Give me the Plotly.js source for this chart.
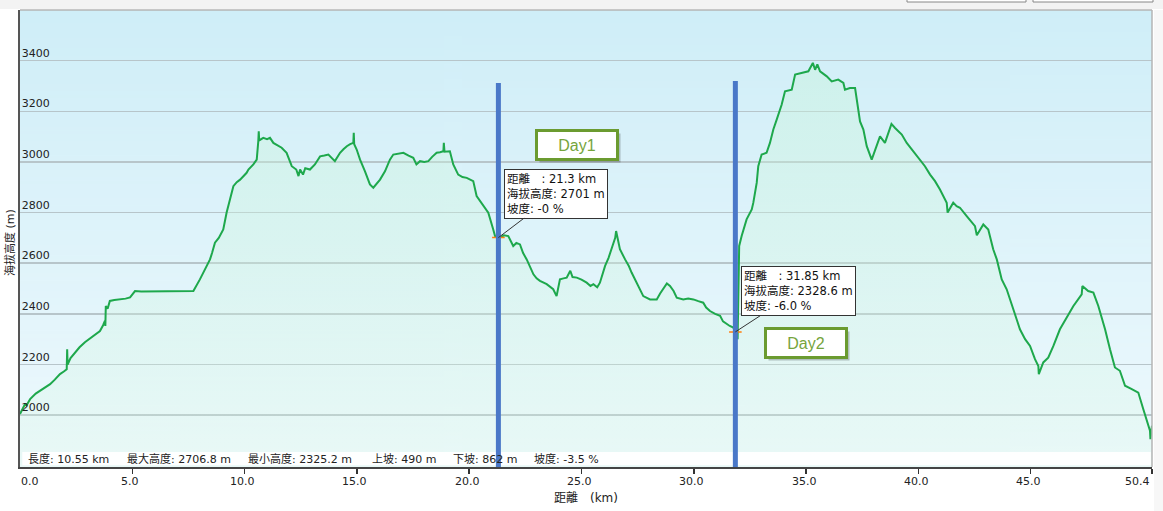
<!DOCTYPE html>
<html>
<head>
<meta charset="utf-8">
<script src="https://cdn.plot.ly/plotly-3.0.1.min.js"></script>
<style>
html,body{margin:0;padding:0;background:#ffffff;}
#chart{width:1163px;height:511px;}
</style>
</head>
<body>
<div id="chart"></div>
<script>
// Distance along the route (km)
const dist = [
0.00,0.10,0.22,0.30,0.45,0.70,0.89,1.10,1.34,1.55,1.78,1.95,2.08,2.10,2.12,2.25,2.45,2.65,2.89,3.20,
3.56,3.70,3.78,3.80,3.82,3.90,4.00,4.20,4.45,4.70,4.90,5.12,5.40,5.79,6.50,7.20,7.72,8.01,8.30,8.46,
8.55,8.68,8.85,9.05,9.20,9.35,9.50,9.65,9.80,10.09,10.17,10.39,10.54,10.61,10.63,10.65,10.83,11.00,11.13,11.28,
11.45,11.65,11.87,12.10,12.30,12.40,12.47,12.60,12.70,12.91,13.13,13.36,13.55,13.73,14.02,14.25,14.40,14.55,14.70,14.84,
14.86,14.88,14.99,15.14,15.36,15.58,15.73,15.88,16.03,16.25,16.47,16.62,16.85,17.07,17.30,17.51,17.65,17.81,18.00,18.18,
18.35,18.55,18.70,18.85,18.87,18.90,19.14,19.29,19.51,19.70,19.89,20.18,20.33,20.50,20.63,20.85,21.07,21.15,21.30,21.37,
21.55,21.74,21.96,22.10,22.26,22.40,22.56,22.70,22.86,23.00,23.15,23.45,23.60,23.74,23.89,24.04,24.20,24.34,24.50,24.60,
24.79,25.00,25.23,25.40,25.53,25.70,25.82,26.05,26.20,26.34,26.50,26.54,26.60,26.71,26.94,27.10,27.23,27.46,27.60,27.75,
28.05,28.35,28.50,28.64,28.80,28.94,29.10,29.24,29.53,29.75,29.98,30.20,30.42,30.55,30.72,30.95,31.17,31.30,31.46,31.60,
31.76,31.85,31.95,31.98,32.02,32.13,32.35,32.58,32.65,32.80,32.87,33.02,33.24,33.39,33.54,33.69,33.91,34.06,34.36,34.51,
34.80,35.10,35.30,35.40,35.50,35.62,35.92,36.14,36.43,36.66,36.73,36.95,37.18,37.25,37.40,37.55,37.70,37.92,38.07,38.29,
38.51,38.74,38.80,38.96,39.26,39.48,39.78,40.07,40.29,40.52,40.74,40.96,41.26,41.30,41.55,41.70,41.85,42.15,42.52,42.60,
42.89,43.11,43.33,43.49,43.71,43.93,44.23,44.52,44.75,44.97,45.19,45.34,45.36,45.56,45.78,46.01,46.30,46.60,46.90,47.27,
47.30,47.56,47.79,48.01,48.31,48.53,48.75,48.97,49.20,49.50,49.79,50.01,50.24,50.31,50.33,50.40
];
// Elevation (m)
const elev = [
2004,2020,2043,2040,2063,2085,2096,2105,2122,2140,2162,2172,2181,2260,2200,2225,2248,2268,2288,2310,
2332,2355,2372,2352,2431,2420,2451,2455,2457,2460,2465,2490,2488,2488,2489,2490,2490,2536,2589,2615,
2640,2681,2700,2733,2800,2852,2904,2920,2930,2957,2970,2990,3009,3082,3121,3085,3095,3090,3095,3075,
3065,3056,3036,2983,2970,2944,2970,2950,2975,2970,2990,3022,3025,3029,3003,3036,3050,3062,3070,3075,
3115,3070,3049,3009,2963,2911,2898,2915,2930,2963,3009,3029,3034,3036,3025,3016,2990,3003,3000,3003,
3020,3036,3038,3042,3075,3040,3042,2990,2950,2940,2937,2924,2865,2845,2825,2799,2733,2707,2701,2701,
2710,2707,2668,2680,2674,2640,2615,2585,2556,2540,2530,2517,2505,2497,2470,2536,2540,2543,2570,2545,
2543,2535,2523,2510,2517,2505,2523,2589,2620,2655,2700,2727,2700,2655,2615,2590,2563,2523,2500,2470,
2457,2457,2480,2497,2520,2510,2490,2464,2457,2460,2457,2450,2444,2425,2411,2400,2392,2370,2359,2352,
2346,2329,2300,2480,2668,2707,2773,2812,2839,2917,2983,3029,3036,3075,3128,3167,3226,3279,3285,3345,
3351,3358,3391,3364,3385,3358,3338,3318,3325,3312,3285,3292,3292,3246,3160,3128,3062,3009,3049,3101,
3075,3128,3150,3134,3108,3075,3042,3009,2983,2950,2924,2891,2839,2800,2839,2825,2819,2786,2746,2710,
2753,2733,2655,2615,2536,2497,2418,2339,2300,2273,2221,2194,2162,2208,2227,2273,2339,2385,2431,2477,
2510,2490,2484,2431,2339,2260,2188,2175,2116,2103,2089,2024,1958,1938,1905,1958
];

// Day split points and their tooltip values
const splitKm = [21.3, 31.85];
const splitElev = [2701, 2328.6];
const splitSlope = ['-0', '-6.0'];
const dayLabels = ['Day1', 'Day2'];

// Axis ticks
const xTickVals = [0, 5, 10, 15, 20, 25, 30, 35, 40, 45, 50.4];
const xTickText = ['0.0','5.0','10.0','15.0','20.0','25.0','30.0','35.0','40.0','45.0','50.4'];
const yTickVals = [2000, 2200, 2400, 2600, 2800, 3000, 3200, 3400];

// Summary statistics line
const statLabels = ['長度: 10.55 km', '最大高度: 2706.8 m', '最小高度: 2325.2 m', '上坡: 490 m', '下坡: 862 m', '坡度: -3.5 %'];

// ---- background gradient image ----
const cv = document.createElement('canvas');
cv.width = 4; cv.height = 256;
const cx = cv.getContext('2d');
const g = cx.createLinearGradient(0, 0, 0, 256);
g.addColorStop(0, '#cfeef8');
g.addColorStop(1, '#eef9fd');
cx.fillStyle = g; cx.fillRect(0, 0, 4, 256);
const bgURL = cv.toDataURL();

const W = 1163, H = 511, ML = 20, MR = 11, MT = 10, MB = 44;
const PW = W - ML - MR, PH = H - MT - MB;
const px2x = p => (p - ML) / PW;
const py2y = p => (H - MB - p) / PH;

const font = 'DejaVu Sans, Noto Sans CJK TC, sans-serif';

const traces = [
  {
    x: dist, y: elev, type: 'scatter', mode: 'lines',
    line: {color: '#1ea84c', width: 2},
    fill: 'tozeroy',
    fillcolor: 'rgba(205,245,220,0.35)',
    fillgradient: {type: 'vertical', start: 1800, stop: 3400,
      colorscale: [[0, 'rgba(215,248,225,0.22)'], [1, 'rgba(200,244,218,0.42)']]},
    hoverinfo: 'skip', showlegend: false
  },
  {
    x: splitKm, y: splitElev, type: 'scatter', mode: 'markers',
    marker: {symbol: 'cross-thin-open', size: 9, line: {color: '#e03030', width: 1.5}},
    hoverinfo: 'skip', showlegend: false
  }
];

const shapes = [
  {type: 'rect', xref: 'paper', yref: 'paper', x0: px2x(0), x1: px2x(W), y0: py2y(9), y1: py2y(-2),
   fillcolor: '#f3f3f3', line: {width: 0}, layer: 'above'},
  {type: 'rect', xref: 'paper', yref: 'paper', x0: px2x(907), x1: px2x(1026), y0: py2y(2), y1: py2y(-6),
   fillcolor: '#ffffff', line: {color: '#888', width: 1}, layer: 'above'},
  {type: 'rect', xref: 'paper', yref: 'paper', x0: px2x(1033), x1: px2x(1153), y0: py2y(2), y1: py2y(-6),
   fillcolor: '#ffffff', line: {color: '#888', width: 1}, layer: 'above'},
  {type: 'rect', xref: 'paper', yref: 'paper', x0: px2x(1154), x1: px2x(W + 2), y0: py2y(H), y1: py2y(10),
   fillcolor: '#f7f7f7', line: {width: 0}, layer: 'below'},
  {type: 'line', xref: 'paper', yref: 'paper', x0: 0, x1: 1, y0: 1, y1: 1, line: {color: '#b5b5b5', width: 1.5}, layer: 'above'},
  {type: 'line', xref: 'paper', yref: 'paper', x0: 1, x1: 1, y0: 0, y1: 1, line: {color: '#b5b5b5', width: 1.5}, layer: 'above'},
  {type: 'rect', xref: 'paper', yref: 'paper', x0: 0.002, x1: 0.999, y0: 0.004, y1: py2y(452),
   fillcolor: 'rgba(255,255,255,0.92)', line: {width: 0}, layer: 'above'}
];
splitKm.forEach((k, i) => {
  shapes.push({type: 'line', xref: 'x', yref: 'paper', x0: k, x1: k,
    y0: 0, y1: py2y(i === 0 ? 83 : 81), line: {color: '#4a78c8', width: 5}, layer: 'above'});
});

const annotations = [];
annotations.push({xref: 'paper', yref: 'paper', x: px2x(10), y: py2y(243), text: '海拔高度 (m)',
  textangle: -90, showarrow: false, font: {family: font, size: 11, color: '#222'}, xanchor: 'center', yanchor: 'middle'});
// x tick labels drawn at the tick positions; end labels are kept inside the plot width
const lastTick = xTickVals.length - 1;
xTickVals.forEach((v, i) => {
  annotations.push({xref: 'x', yref: 'paper', x: v, y: py2y(481), text: xTickText[i], showarrow: false,
    xanchor: i === 0 ? 'left' : (i === lastTick ? 'right' : 'center'),
    xshift: i === 0 ? -1 : (i === lastTick ? 0 : -2), yanchor: 'middle',
    font: {family: font, size: 11, color: '#222'}});
});
const statPx = [26, 125, 246, 370, 451, 532];
statLabels.forEach((t, i) => {
  annotations.push({xref: 'paper', yref: 'paper', x: px2x(statPx[i]), y: py2y(459), text: t,
    showarrow: false, xanchor: 'left', yanchor: 'middle', font: {family: font, size: 11, color: '#222'}});
});
const tipOff = [[58, -44], [63, -41]];
splitKm.forEach((k, i) => {
  annotations.push({x: k, y: splitElev[i], xref: 'x', yref: 'y',
    text: '距離\u3000: ' + k + ' km<br>海拔高度: ' + splitElev[i] + ' m<br>坡度: ' + splitSlope[i] + ' %',
    align: 'left', showarrow: true, arrowhead: 0, arrowwidth: 1, arrowcolor: '#333',
    ax: tipOff[i][0], ay: tipOff[i][1], bgcolor: '#ffffff', bordercolor: '#333', borderwidth: 1, borderpad: 2,
    font: {family: font, size: 11.5, color: '#111'}});
});
const dayPos = [[576.5, 145], [806, 342.5]];
dayLabels.forEach((t, i) => {
  const base = {xref: 'paper', yref: 'paper', x: px2x(dayPos[i][0]), y: py2y(dayPos[i][1]),
    showarrow: false, width: 76, height: 24, borderpad: 1, xanchor: 'center', yanchor: 'middle'};
  annotations.push(Object.assign({}, base, {text: ' ', bgcolor: 'rgba(0,0,0,0.22)', borderwidth: 3,
    bordercolor: 'rgba(0,0,0,0)', xshift: 3, yshift: -3, font: {size: 15}}));
  annotations.push(Object.assign({}, base, {text: t, bgcolor: '#ffffff', borderwidth: 3, bordercolor: '#6b9b30',
    font: {family: 'Liberation Sans, Arial, sans-serif', size: 16, color: '#76a43c'}}));
});

const layout = {
  width: W, height: H,
  margin: {l: ML, r: MR, t: MT, b: MB, pad: 0},
  paper_bgcolor: '#ffffff',
  plot_bgcolor: '#e2f4fb',
  images: [{source: bgURL, xref: 'paper', yref: 'paper', x: 0, y: 1, sizex: 1, sizey: 1,
    sizing: 'stretch', xanchor: 'left', yanchor: 'top', layer: 'below'}],
  xaxis: {
    range: [0, 50.4], tickvals: xTickVals, ticktext: xTickVals.map(() => ''),
    ticks: 'outside', ticklen: 5, tickwidth: 1.5, tickcolor: '#333',
    showgrid: false, zeroline: false, showline: true, linecolor: '#444', linewidth: 2,
    tickfont: {family: font, size: 11, color: '#222'},
    title: {text: '距離\u3000(km)', font: {family: font, size: 12, color: '#222'}, standoff: 18}
  },
  yaxis: {
    range: [1795, 3600], tickvals: yTickVals,
    showgrid: true, gridcolor: '#b7c5ca', gridwidth: 1.5,
    zeroline: false, showline: true, linecolor: '#555', linewidth: 2,
    ticks: '', ticklabelposition: 'inside top',
    tickfont: {family: font, size: 11, color: '#222'}
  },
  shapes: shapes,
  annotations: annotations,
  showlegend: false
};

Plotly.newPlot('chart', traces, layout, {displayModeBar: false, staticPlot: true});
</script>
</body>
</html>
